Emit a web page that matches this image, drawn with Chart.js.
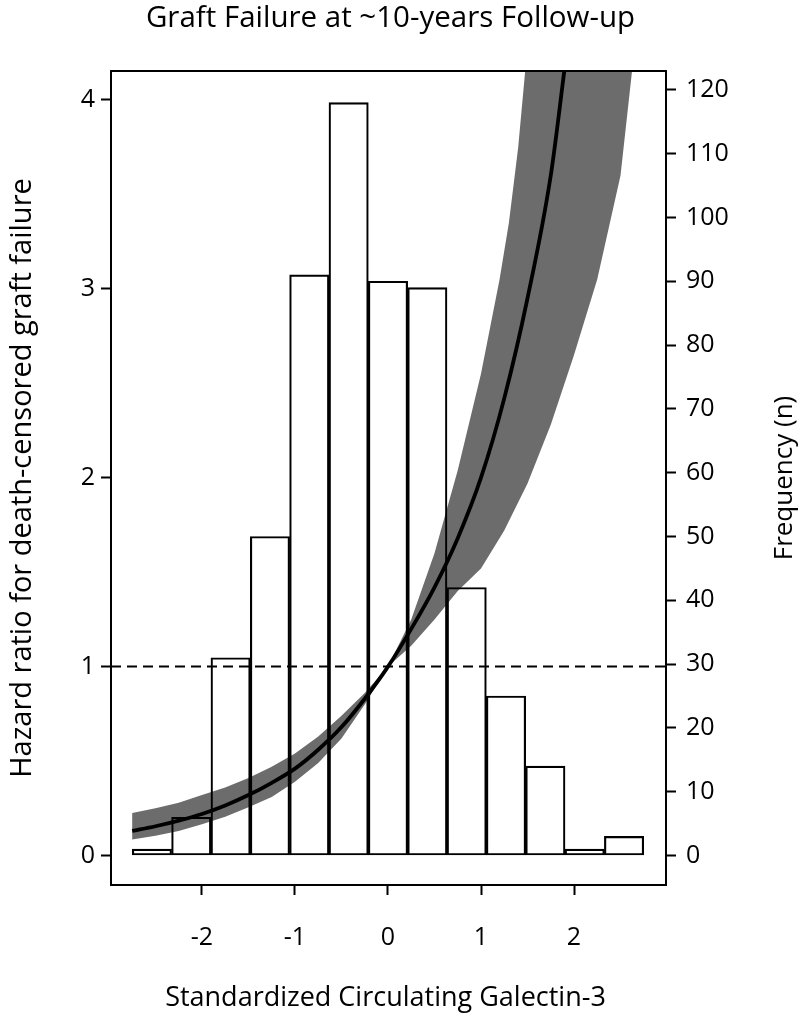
<!DOCTYPE html>
<html>
<head>
<meta charset="utf-8">
<script src="https://cdn.jsdelivr.net/npm/chart.js@4.4.1/dist/chart.umd.min.js"></script>
<style>
  html, body { margin: 0; padding: 0; background: #fff; }
  #wrap { width: 800px; height: 1019px; position: relative; }
</style>
</head>
<body>
<div id="wrap"><canvas id="chart"></canvas></div>
<script>
// histogram: bin centres (standardized galectin-3) and counts
const binCenters = [-2.538, -2.115, -1.692, -1.269, -0.846, -0.423, 0, 0.423, 0.846, 1.269, 1.692, 2.115, 2.538];
const binCounts = [1, 6, 31, 50, 91, 118, 90, 89, 42, 25, 14, 1, 3];

// hazard ratio curve
const curveX = [-2.75, -2.5, -2.25, -2.0, -1.75, -1.5, -1.25, -1.0, -0.75, -0.5, -0.25, 0, 0.25, 0.5, 0.75, 1.0, 1.25, 1.5, 1.75, 1.9];
const curveHR = [0.13, 0.155, 0.185, 0.22, 0.265, 0.32, 0.385, 0.46, 0.56, 0.68, 0.83, 1.0, 1.2, 1.42, 1.68, 2.0, 2.42, 2.95, 3.6, 4.17];

// confidence band (upper runs out of the top first)
const upperX = [-2.75, -2.5, -2.25, -2.0, -1.75, -1.5, -1.25, -1.0, -0.75, -0.5, -0.25, 0, 0.25, 0.5, 0.75, 1.0, 1.1, 1.2, 1.3, 1.4, 1.48];
const upperHR = [0.225, 0.25, 0.28, 0.32, 0.36, 0.41, 0.47, 0.54, 0.63, 0.74, 0.86, 1.0, 1.25, 1.6, 2.04, 2.55, 2.8, 3.05, 3.35, 3.75, 4.18];
const lowerX = [-2.75, -2.5, -2.25, -2.0, -1.75, -1.5, -1.25, -1.0, -0.75, -0.5, -0.25, 0, 0.25, 0.5, 0.75, 1.0, 1.25, 1.5, 1.75, 2.0, 2.25, 2.5, 2.63];
const lowerHR = [0.085, 0.105, 0.13, 0.165, 0.205, 0.255, 0.31, 0.39, 0.49, 0.62, 0.8, 1.0, 1.11, 1.25, 1.4, 1.52, 1.72, 1.97, 2.28, 2.65, 3.05, 3.6, 4.18];

const refHR = 1;

const xTicks = [-2, -1, 0, 1, 2];
const hrTicks = [0, 1, 2, 3, 4];
const freqTicks = [0, 10, 20, 30, 40, 50, 60, 70, 80, 90, 100, 110, 120];

const mainTitle = "Graft Failure at ~10-years Follow-up";
const xTitle = "Standardized Circulating Galectin-3";
const yTitle = "Hazard ratio for death-censored graft failure";
const y2Title = "Frequency (n)";

const xMin = -2.978, xMax = 2.989;
const FONT = '"Open Sans", "Noto Sans", sans-serif';

const bandPoly = upperX.map((x, i) => ({ x: x, y: upperHR[i] }))
  .concat(lowerX.map((x, i) => ({ x: x, y: lowerHR[i] })).reverse());

// box round the plot + titles
const frame = {
  id: "frame",
  afterDatasetsDraw(chart) {
    const { ctx, chartArea: a } = chart;
    ctx.save();
    ctx.strokeStyle = "#000";
    ctx.lineWidth = 2;
    ctx.strokeRect(a.left, a.top, a.right - a.left, a.bottom - a.top);
    ctx.restore();
  },
  afterDraw(chart) {
    const { ctx, chartArea: a } = chart;
    const cx = (a.left + a.right) / 2;
    const cy = (a.top + a.bottom) / 2;
    ctx.save();
    ctx.fillStyle = "#000";
    ctx.textAlign = "center";
    ctx.textBaseline = "alphabetic";
    ctx.font = "29.5px " + FONT;
    ctx.fillText(mainTitle, cx + 2, 27);
    ctx.font = "27px " + FONT;
    ctx.fillText(xTitle, cx - 3, 1006);
    ctx.textBaseline = "middle";
    ctx.save();
    ctx.font = "29px " + FONT;
    ctx.translate(23, cy);
    ctx.rotate(-Math.PI / 2);
    ctx.fillText(yTitle, 0, 0);
    ctx.restore();
    ctx.font = "26px " + FONT;
    ctx.translate(785, cy);
    ctx.rotate(-Math.PI / 2);
    ctx.fillText(y2Title, 0, 0);
    ctx.restore();
  }
};

const tickFont = { family: FONT, size: 25 };
const gridOpts = { drawOnChartArea: false, drawTicks: true, tickLength: 10, tickColor: "#000", tickWidth: 2, offset: false };

new Chart(document.getElementById("chart"), {
  type: "bar",
  data: {
    datasets: [
      {
        type: "line",
        data: bandPoly,
        xAxisID: "x",
        yAxisID: "y",
        fill: "shape",
        backgroundColor: "#6c6c6c",
        borderWidth: 0,
        pointRadius: 0,
        tension: 0,
        order: 4
      },
      {
        type: "bar",
        data: binCenters.map((x, i) => ({ x: x, y: binCounts[i] })),
        xAxisID: "x",
        yAxisID: "y2",
        backgroundColor: "rgba(0,0,0,0)",
        borderColor: "#000",
        borderWidth: 1.5,
        borderSkipped: false,
        barPercentage: 1,
        categoryPercentage: 1,
        order: 3
      },
      {
        type: "line",
        data: [{ x: xMin, y: refHR }, { x: xMax, y: refHR }],
        xAxisID: "x",
        yAxisID: "y",
        borderColor: "#000",
        borderWidth: 2,
        borderDash: [10, 6],
        pointRadius: 0,
        fill: false,
        order: 2
      },
      {
        type: "line",
        data: curveX.map((x, i) => ({ x: x, y: curveHR[i] })),
        xAxisID: "x",
        yAxisID: "y",
        borderColor: "#000",
        borderWidth: 3.8,
        pointRadius: 0,
        cubicInterpolationMode: "monotone",
        fill: false,
        order: 1
      }
    ]
  },
  options: {
    responsive: true,
    maintainAspectRatio: false,
    animation: false,
    layout: { padding: { top: 71, left: 0, right: 0, bottom: 0 } },
    plugins: { legend: { display: false }, tooltip: { enabled: false }, title: { display: false } },
    scales: {
      x: {
        type: "linear",
        position: "bottom",
        min: xMin,
        max: xMax,
        offset: false,
        afterFit: s => { s.height = 134; },
        afterBuildTicks: s => { s.ticks = xTicks.map(v => ({ value: v })); },
        grid: gridOpts,
        border: { display: false },
        ticks: { font: tickFont, color: "#000", padding: 28, maxRotation: 0, autoSkip: false, callback: v => String(v) }
      },
      y: {
        type: "linear",
        position: "left",
        min: -0.156,
        max: 4.153,
        afterFit: s => { s.width = 111; },
        afterBuildTicks: s => { s.ticks = hrTicks.map(v => ({ value: v })); },
        grid: gridOpts,
        border: { display: false },
        ticks: { font: tickFont, color: "#000", padding: 6, callback: v => String(v) }
      },
      y2: {
        type: "linear",
        position: "right",
        min: -4.624,
        max: 122.96,
        afterFit: s => { s.width = 134; },
        afterBuildTicks: s => { s.ticks = freqTicks.map(v => ({ value: v })); },
        grid: gridOpts,
        border: { display: false },
        ticks: { font: tickFont, color: "#000", padding: 10, callback: v => String(v) }
      }
    }
  },
  plugins: [frame]
});
</script>
</body>
</html>
